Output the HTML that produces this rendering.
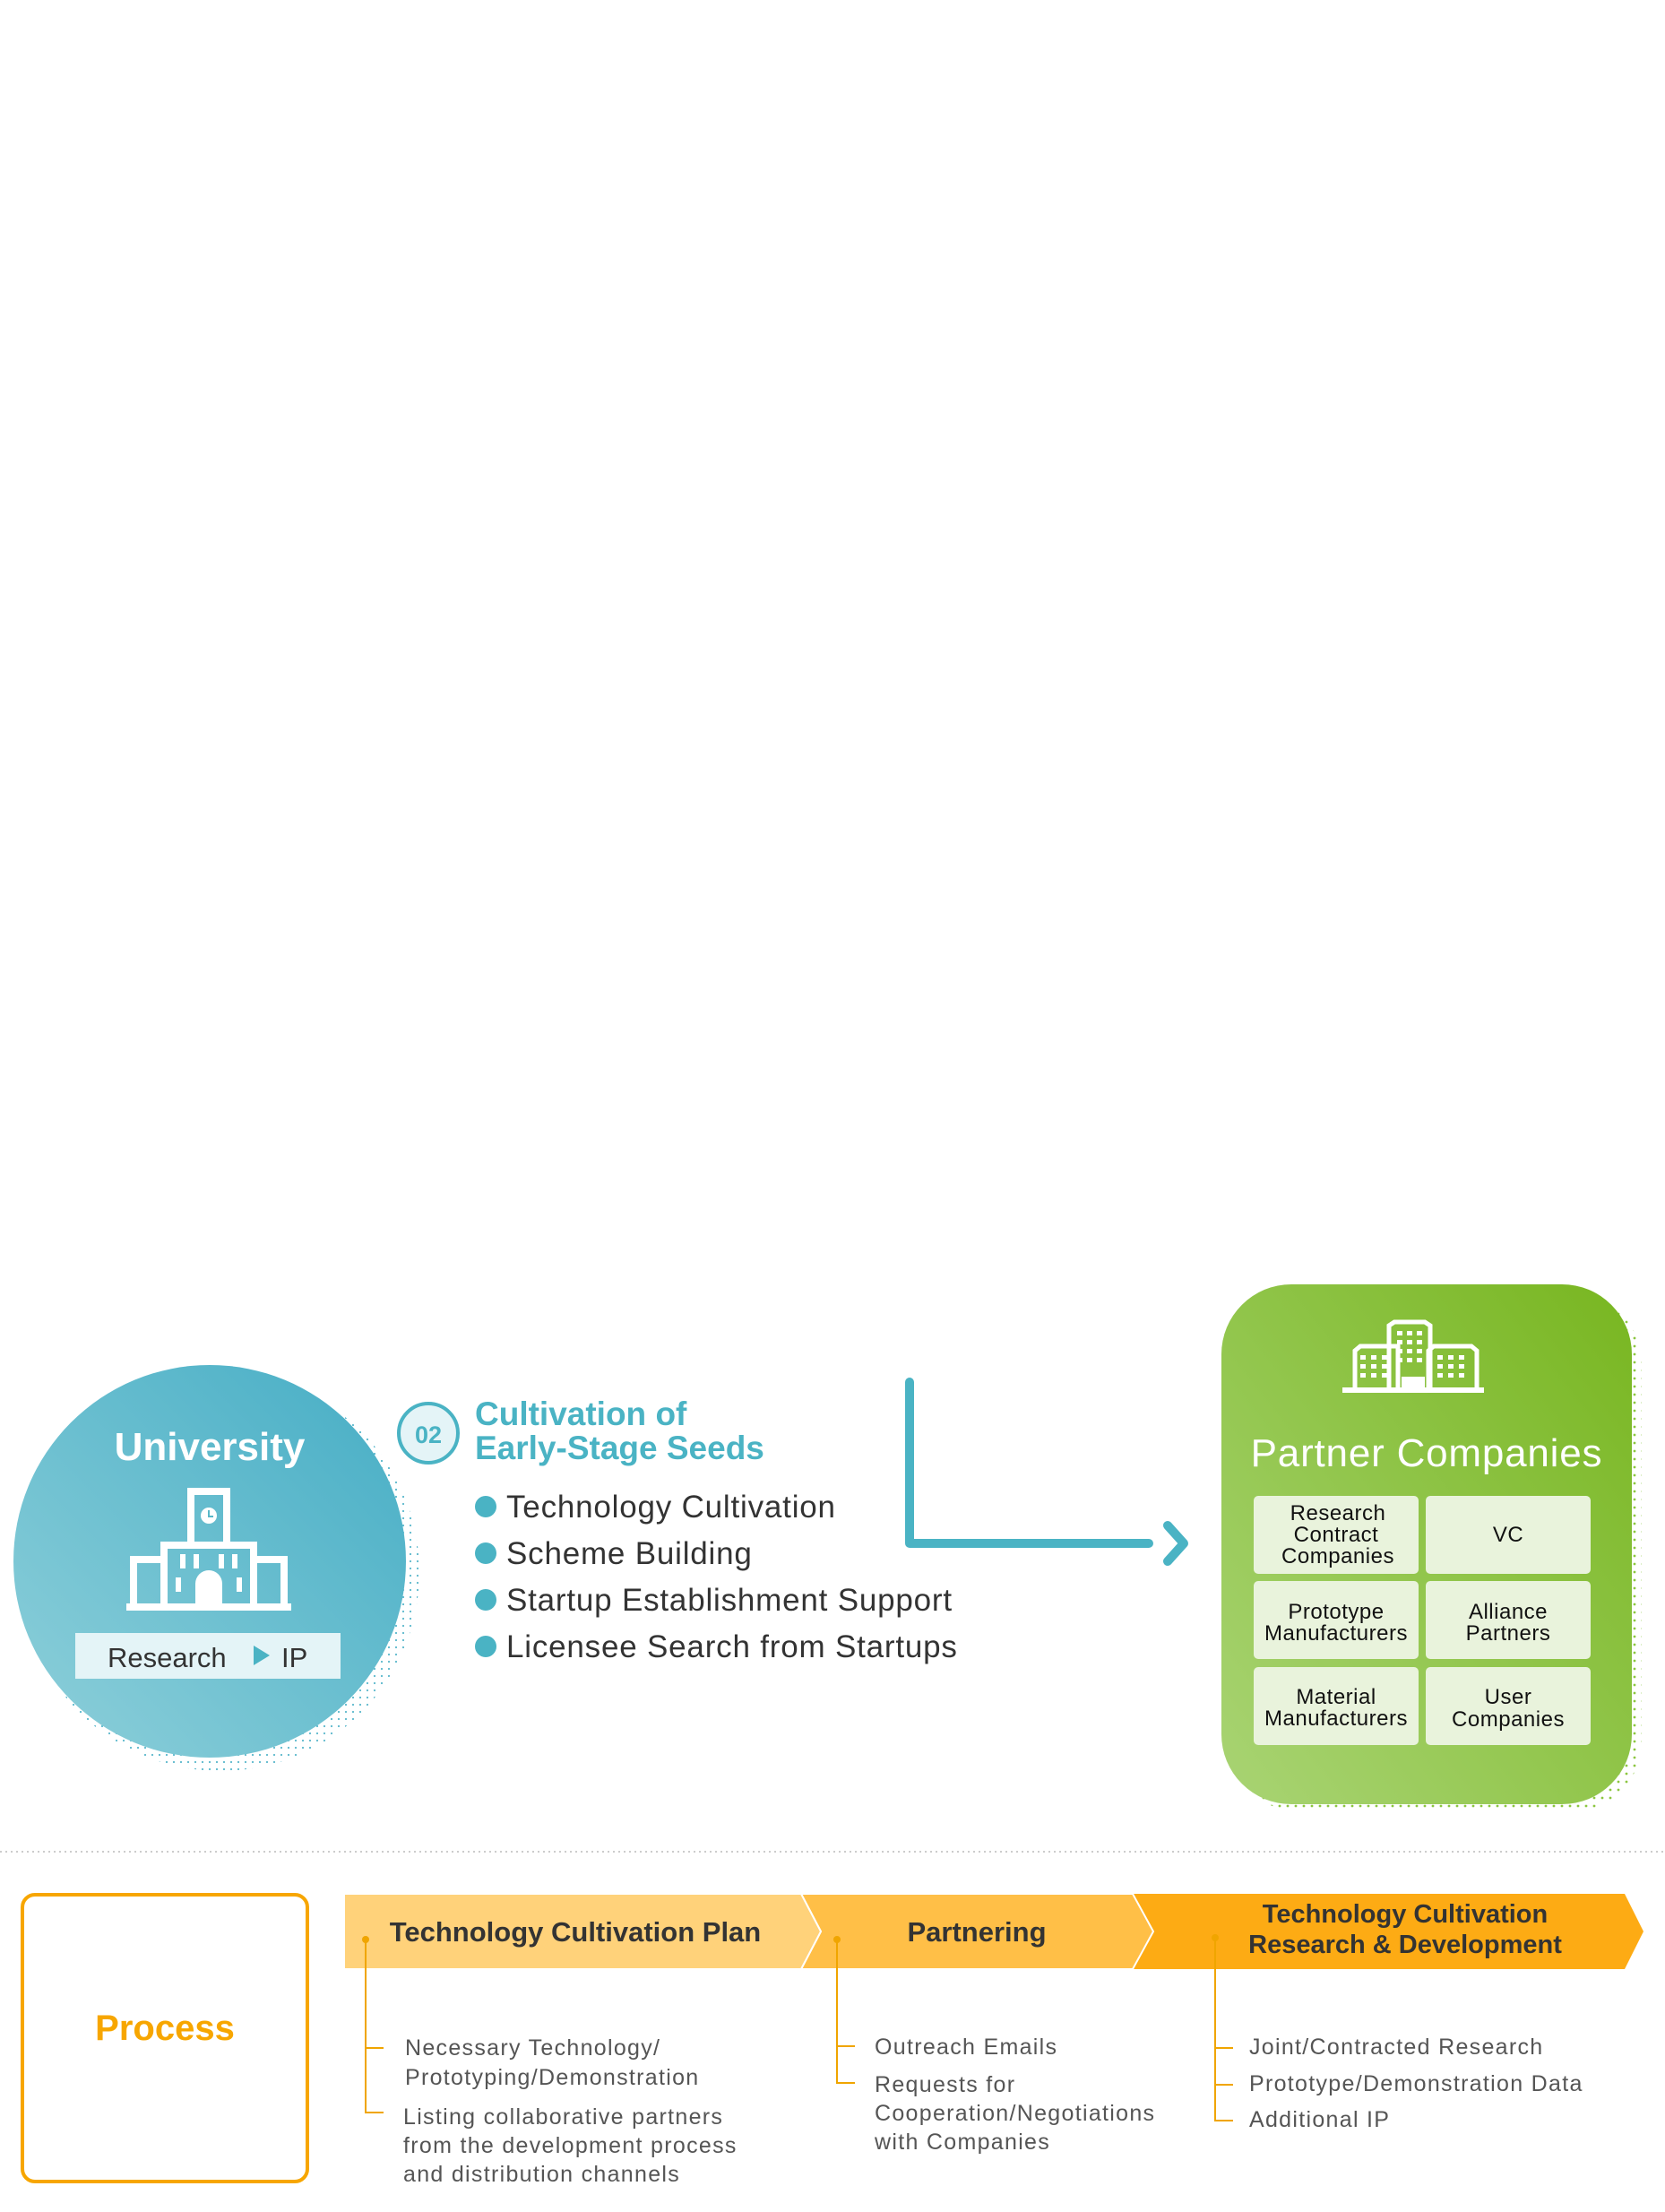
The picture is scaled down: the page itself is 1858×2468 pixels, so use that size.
<!DOCTYPE html>
<html><head><meta charset="utf-8"><style>
html,body{margin:0;padding:0;background:#fff;}
svg{display:block;}
text{font-family:"Liberation Sans",sans-serif;}
</style></head><body>
<svg width="1858" height="2468" viewBox="0 0 1858 2468" xmlns="http://www.w3.org/2000/svg">
<defs>
<linearGradient id="gU" x1="1" y1="0" x2="0" y2="1">
<stop offset="0" stop-color="#45adc5"/><stop offset="1" stop-color="#8fd0da"/></linearGradient>
<linearGradient id="gP" x1="1" y1="0" x2="0" y2="1">
<stop offset="0" stop-color="#78b620"/><stop offset="1" stop-color="#a9d474"/></linearGradient>
<pattern id="dB" width="8" height="8" patternUnits="userSpaceOnUse"><circle cx="2" cy="2" r="1.1" fill="#5bb8cc"/></pattern>
<pattern id="dG" width="9" height="9" patternUnits="userSpaceOnUse"><circle cx="2" cy="2" r="1.4" fill="#8cc63f"/></pattern>
</defs>

<g transform="translate(0,12)">
<circle cx="246" cy="1742" r="222" fill="url(#dB)"/>
<circle cx="234" cy="1730" r="219" fill="url(#gU)"/>
<text x="234" y="1617" font-size="44" fill="#fff" text-anchor="middle" font-weight="bold">University</text>
<g fill="none" stroke="#fff" stroke-width="8">
<rect x="213" y="1652" width="40" height="60"/>
<rect x="183" y="1712" width="100" height="69"/>
<rect x="149" y="1728" width="34" height="53"/>
<rect x="283" y="1728" width="34" height="53"/>
</g>
<rect x="141" y="1777" width="184" height="8" fill="#fff"/>
<circle cx="233" cy="1679" r="9" fill="#fff"/>
<path d="M233 1673 v7 h5" stroke="#5ab8c9" stroke-width="2" fill="none"/>
<path d="M218 1781 v-26 a15 15 0 0 1 30 0 v26z" fill="#fff"/>
<g fill="#fff"><rect x="201" y="1722" width="6" height="16"/><rect x="216" y="1722" width="6" height="16"/><rect x="244" y="1722" width="6" height="16"/><rect x="259" y="1722" width="6" height="16"/><rect x="196" y="1748" width="6" height="16"/><rect x="264" y="1748" width="6" height="16"/></g>
<rect x="84" y="1810" width="296" height="51" fill="#e4f4f7"/>
<text x="120" y="1848" font-size="31" fill="#333">Research</text>
<path d="M283 1824 l18 11 l-18 11z" fill="#4ab3c4"/>
<text x="314" y="1848" font-size="31" fill="#333">IP</text>

<circle cx="478" cy="1587" r="33" fill="#e4f4f7" stroke="#4ab3c4" stroke-width="4"/>
<text x="478" y="1598" font-size="27" fill="#4ab3c4" text-anchor="middle" font-weight="bold">02</text>
<text x="530" y="1578" font-size="37" fill="#4ab3c4" font-weight="bold">Cultivation of</text>
<text x="530" y="1616" font-size="37" fill="#4ab3c4" font-weight="bold">Early-Stage Seeds</text>
<g fill="#4ab3c4"><circle cx="542" cy="1669" r="12"/><circle cx="542" cy="1721" r="12"/><circle cx="542" cy="1773" r="12"/><circle cx="542" cy="1825" r="12"/></g>
<g font-size="35" fill="#333" letter-spacing="0.8">
<text x="565" y="1681">Technology Cultivation</text>
<text x="565" y="1733">Scheme Building</text>
<text x="565" y="1785">Startup Establishment Support</text>
<text x="565" y="1837">Licensee Search from Startups</text>
</g>

<path d="M1015 1530 V1710 H1282" fill="none" stroke="#4ab3c4" stroke-width="10" stroke-linecap="round" stroke-linejoin="round"/>
<path d="M1303 1690 L1321 1710 L1303 1730" fill="none" stroke="#4ab3c4" stroke-width="10" stroke-linecap="round" stroke-linejoin="round"/>
</g>

<g transform="translate(4,6)">
<rect x="1368" y="1437" width="460" height="578" rx="78" fill="url(#dG)"/>
<rect x="1359" y="1427" width="458" height="580" rx="78" fill="url(#gP)"/>
<g transform="translate(0,6)">
<g fill="none" stroke="#fff" stroke-width="5">
<path d="M1508 1537 v-42 l6 -5 h42 v47"/><path d="M1590 1537 v-42 l6 -5 h42 l6 5 v42"/><path d="M1546 1537 v-70 l6 -4 h34 l6 4 v70"/>
</g>
<rect x="1494" y="1536" width="158" height="6" fill="#fff"/>
<rect x="1560" y="1524" width="26" height="12" fill="#fff"/>
<g fill="#fff">
<rect x="1514" y="1500" width="6" height="5"/><rect x="1526" y="1500" width="6" height="5"/><rect x="1538" y="1500" width="6" height="5"/>
<rect x="1514" y="1510" width="6" height="5"/><rect x="1526" y="1510" width="6" height="5"/><rect x="1538" y="1510" width="6" height="5"/>
<rect x="1514" y="1520" width="6" height="5"/><rect x="1526" y="1520" width="6" height="5"/><rect x="1538" y="1520" width="6" height="5"/>
<rect x="1600" y="1500" width="6" height="5"/><rect x="1612" y="1500" width="6" height="5"/><rect x="1624" y="1500" width="6" height="5"/>
<rect x="1600" y="1510" width="6" height="5"/><rect x="1612" y="1510" width="6" height="5"/><rect x="1624" y="1510" width="6" height="5"/>
<rect x="1600" y="1520" width="6" height="5"/><rect x="1612" y="1520" width="6" height="5"/><rect x="1624" y="1520" width="6" height="5"/>
<rect x="1555" y="1473" width="6" height="5"/><rect x="1566" y="1473" width="6" height="5"/><rect x="1577" y="1473" width="6" height="5"/>
<rect x="1555" y="1483" width="6" height="5"/><rect x="1566" y="1483" width="6" height="5"/><rect x="1577" y="1483" width="6" height="5"/>
<rect x="1555" y="1493" width="6" height="5"/><rect x="1566" y="1493" width="6" height="5"/><rect x="1577" y="1493" width="6" height="5"/>
<rect x="1555" y="1503" width="6" height="5"/><rect x="1566" y="1503" width="6" height="5"/><rect x="1577" y="1503" width="6" height="5"/>
</g>
</g>
<text x="1588" y="1630" font-size="44" fill="#fff" text-anchor="middle" letter-spacing="0.8">Partner Companies</text>
<g fill="#e9f3dc">
<rect x="1395" y="1663" width="184" height="87" rx="5"/><rect x="1587" y="1663" width="184" height="87" rx="5"/>
<rect x="1395" y="1758" width="184" height="87" rx="5"/><rect x="1587" y="1758" width="184" height="87" rx="5"/>
<rect x="1395" y="1854" width="184" height="87" rx="5"/><rect x="1587" y="1854" width="184" height="87" rx="5"/>
</g>
<g font-size="24" fill="#111" text-anchor="middle" letter-spacing="0.5">
<text x="1489" y="1690">Research</text><text x="1487" y="1714">Contract</text><text x="1489" y="1738">Companies</text>
<text x="1679" y="1714">VC</text>
<text x="1487" y="1800">Prototype</text><text x="1487" y="1824">Manufacturers</text>
<text x="1679" y="1800">Alliance</text><text x="1679" y="1824">Partners</text>
<text x="1487" y="1895">Material</text><text x="1487" y="1919">Manufacturers</text>
<text x="1679" y="1895">User</text><text x="1679" y="1920">Companies</text>
</g>
</g>

<line x1="0" y1="2066" x2="1858" y2="2066" stroke="#ccc" stroke-width="2" stroke-dasharray="2 4"/>

<rect x="25" y="2114" width="318" height="320" rx="14" fill="none" stroke="#f7a600" stroke-width="4"/>
<text x="184" y="2276" font-size="40" fill="#f7a600" text-anchor="middle" font-weight="bold">Process</text>

<path d="M1264 2113 H1813 L1834 2155 L1813 2197 H1264 L1287 2155 Z" fill="#fdab14"/>
<path d="M894 2113 H1264 L1287 2155 L1264 2197 H894 L916 2155 Z" fill="#ffbf47" stroke="#fff" stroke-width="2"/>
<path d="M384 2113 H894 L916 2155 L894 2197 H384 Z" fill="#ffd27a" stroke="#fff" stroke-width="2"/>
<g font-size="31" fill="#333" font-weight="bold" text-anchor="middle">
<text x="642" y="2166">Technology Cultivation Plan</text>
<text x="1090" y="2166">Partnering</text>
<text x="1568" y="2145" font-size="29">Technology Cultivation</text>
<text x="1568" y="2179" font-size="29">Research &amp; Development</text>
</g>

<g stroke="#f0a500" stroke-width="2" fill="none">
<path d="M408 2164 V2357 H428"/><path d="M408 2285 H428"/>
<path d="M934 2164 V2324 H954"/><path d="M934 2283 H954"/>
<path d="M1356 2162 V2366 H1376"/><path d="M1356 2285 H1376"/><path d="M1356 2326 H1376"/>
</g>
<g fill="#f0a500"><circle cx="408" cy="2164" r="4"/><circle cx="934" cy="2164" r="4"/><circle cx="1356" cy="2162" r="4"/></g>
<g font-size="25" fill="#555" letter-spacing="1.3">
<text x="452" y="2293">Necessary Technology/</text>
<text x="452" y="2326">Prototyping/Demonstration</text>
<text x="450" y="2370">Listing collaborative partners</text>
<text x="450" y="2402">from the development process</text>
<text x="450" y="2434">and distribution channels</text>
<text x="976" y="2292">Outreach Emails</text>
<text x="976" y="2334">Requests for</text>
<text x="976" y="2366">Cooperation/Negotiations</text>
<text x="976" y="2398">with Companies</text>
<text x="1394" y="2292">Joint/Contracted Research</text>
<text x="1394" y="2333">Prototype/Demonstration Data</text>
<text x="1394" y="2373">Additional IP</text>
</g>
</svg>
</body></html>
